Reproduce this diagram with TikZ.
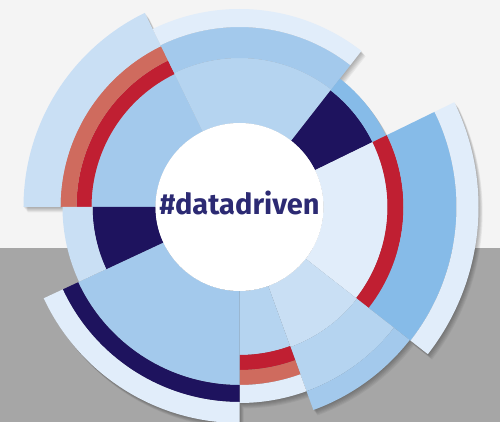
\documentclass[tikz,border=0pt]{standalone}
\usepackage{fontspec}
\setsansfont{Fira Sans}
\usetikzlibrary{positioning}

\definecolor{navyband}{HTML}{1E135E}
\definecolor{redband}{HTML}{C01F32}
\definecolor{salmonband}{HTML}{CF6B5E}
\definecolor{midblue}{HTML}{A3C9EC}
\definecolor{softblue}{HTML}{B5D4F0}
\definecolor{lightblue}{HTML}{C9DFF4}
\definecolor{paleblue}{HTML}{E1EDFA}
\definecolor{brightblue}{HTML}{86BBE8}
\definecolor{tagnavy}{HTML}{2C2A73}
\definecolor{bgtop}{HTML}{F4F4F4}
\definecolor{bggray}{HTML}{A6A6A6}

% colour, start angle, end angle, inner radius, outer radius
\newcommand{\ringpart}[5]{%
  \fill[#1] (#2:#4) arc[start angle=#2, end angle=#3, radius=#4]
    -- (#3:#5) arc[start angle=#3, end angle=#2, radius=#5] -- cycle;}

\begin{document}
\begin{tikzpicture}[x=1pt, y=1pt]
  \useasboundingbox (-239.5,207) rectangle (260.5,-215);
  \fill[bgtop] (-239.5,207) rectangle (260.5,-41);
  \fill[bggray] (-239.5,-41) rectangle (260.5,-215);
  \coordinate (hub) at (0,0);

  \foreach \s in {1,...,6}
    \fill[black, opacity=0.05, shift={(0.7*\s,-0.9*\s)}] (-90:196)
      \foreach \a/\b/\r in {-90/-70/196, -70/-38/216, -38/26/239, 26/52/163,
                            52/116/198, 116/180/216, 180/205/177, 205/270/216}
        { -- (\a:\r) arc[start angle=\a, end angle=\b, radius=\r] } -- cycle;

  \ringpart{midblue}{116}{180}{84}{148}
  \ringpart{redband}{116}{180}{148}{163}
  \ringpart{salmonband}{116}{180}{163}{179}
  \ringpart{lightblue}{116}{180}{179}{216}

  \ringpart{softblue}{52}{116}{84}{149}
  \ringpart{midblue}{52}{116}{149}{180}
  \ringpart{paleblue}{52}{116}{180}{198}

  \ringpart{navyband}{26}{52}{84}{148}
  \ringpart{brightblue}{26}{52}{148}{163}

  \ringpart{paleblue}{-38}{26}{84}{148}
  \ringpart{redband}{-38}{26}{148}{164}
  \ringpart{brightblue}{-38}{26}{164}{217}
  \ringpart{paleblue}{-38}{26}{217}{239}

  \ringpart{lightblue}{-70}{-38}{84}{149}
  \ringpart{softblue}{-70}{-38}{149}{196}
  \ringpart{midblue}{-70}{-38}{196}{216}

  \ringpart{softblue}{-90}{-70}{84}{148}
  \ringpart{redband}{-90}{-70}{148}{163}
  \ringpart{salmonband}{-90}{-70}{163}{178}
  \ringpart{paleblue}{-90}{-70}{178}{196}

  \ringpart{midblue}{205}{270}{84}{178}
  \ringpart{navyband}{205}{270}{178}{195}
  \ringpart{paleblue}{205}{270}{195}{216}

  \ringpart{navyband}{180}{205}{84}{147}
  \ringpart{lightblue}{180}{205}{147}{177}

  \node[circle, fill=white, minimum size=168pt, inner sep=0pt] (core) at (hub) {};
  \node[anchor=base, text=tagnavy, inner sep=0pt,
        font=\sffamily\bfseries\fontsize{29}{29}\selectfont] (tag)
        at ([yshift=-8pt]core.center) {\#datadriven};
\end{tikzpicture}
\end{document}
